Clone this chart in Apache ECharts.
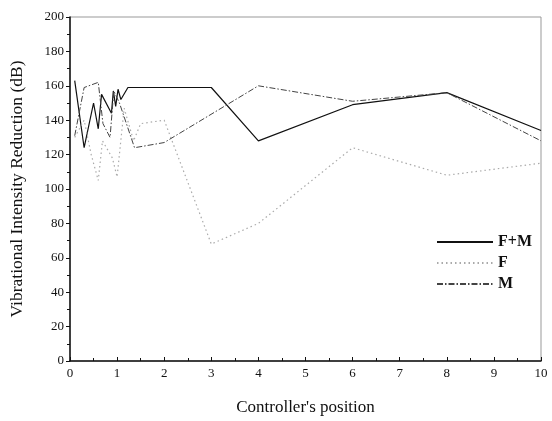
<!DOCTYPE html>
<html><head><meta charset="utf-8">
<script src="https://cdn.jsdelivr.net/npm/echarts@6/dist/echarts.min.js"></script>
<style>html,body{margin:0;padding:0;background:#fff}#c{width:552px;height:421px}</style>
</head><body><div id="c"></div>
<script>
var seriesNames = ['F+M', 'F', 'M'];
var xFM = [0.1, 0.3, 0.5, 0.6, 0.67, 0.88, 0.92, 0.97, 1.02, 1.08, 1.23, 3, 4, 6, 8, 10];
var yFM = [163, 124, 150, 135, 155, 144, 157, 148, 158, 152, 159, 159, 128, 149, 156, 134];
var xF = [0.1, 0.3, 0.45, 0.6, 0.69, 0.9, 1.0, 1.15, 1.35, 1.5, 2, 3, 4, 6, 8, 10];
var yF = [130, 140, 120, 105, 128, 118, 107, 147, 128, 138, 140, 68, 80, 124, 108, 115];
var xM = [0.1, 0.3, 0.6, 0.7, 0.85, 0.93, 1.05, 1.37, 2, 4, 6, 8, 10];
var yM = [131, 159, 162, 138, 130, 157, 150, 124, 127, 160, 151, 156, 128];
var xTicks = [0,1,2,3,4,5,6,7,8,9,10];
var yTicks = [0,20,40,60,80,100,120,140,160,180,200];

function pairs(xs, ys){ return xs.map(function(x,i){return [x, ys[i]];}); }
var font = 'Liberation Serif';
var chart = echarts.init(document.getElementById('c'));
chart.setOption({
  animation: false,
  backgroundColor: '#fff',
  grid: {left: 70, right: 11, top: 17, bottom: 59, show: true, borderColor: '#999', borderWidth: 1},
  legend: {
    show: true, orient: 'vertical', left: 431, top: 229, itemGap: 5, itemWidth: 56, itemHeight: 12,
    itemStyle: {opacity: 0},
    textStyle: {fontFamily: font, fontSize: 16, fontWeight: 'bold', color: '#111'},
    data: seriesNames
  },
  xAxis: {
    type: 'value', min: 0, max: 10, interval: 1,
    name: "Controller's position", nameLocation: 'middle', nameGap: 38,
    nameTextStyle: {fontFamily: font, fontSize: 17, color: '#111'},
    axisLine: {lineStyle: {color: '#111', width: 1.5}},
    axisTick: {inside: true, length: 4, lineStyle: {color: '#111'}},
    minorTick: {show: true, splitNumber: 2, length: 3, lineStyle: {color: '#111'}},
    axisLabel: {fontFamily: font, fontSize: 13, color: '#111', margin: 6,
      formatter: function(v){ return xTicks.indexOf(v) >= 0 ? String(v) : ''; }},
    splitLine: {show: false}
  },
  yAxis: {
    type: 'value', min: 0, max: 200, interval: 20,
    name: 'Vibrational Intensity Reduction (dB)', nameLocation: 'middle', nameGap: 44,
    nameTextStyle: {fontFamily: font, fontSize: 17.5, color: '#111'},
    axisLine: {show: true, lineStyle: {color: '#111', width: 1.5}},
    axisTick: {show: true, inside: false, length: 4, lineStyle: {color: '#111'}},
    minorTick: {show: true, splitNumber: 2, length: 3, lineStyle: {color: '#111'}},
    axisLabel: {fontFamily: font, fontSize: 13, color: '#111', margin: 6,
      formatter: function(v){ return yTicks.indexOf(v) >= 0 ? String(v) : ''; }},
    splitLine: {show: false}
  },
  series: [
    {name: seriesNames[0], type: 'line', data: pairs(xFM, yFM), showSymbol: false, symbol: 'none',
     lineStyle: {color: '#111', width: 1.2}, itemStyle: {color: '#111'}},
    {name: seriesNames[1], type: 'line', data: pairs(xF, yF), showSymbol: false, symbol: 'none',
     lineStyle: {color: '#aaa', width: 1.2, type: [1.5, 3]}, itemStyle: {color: '#aaa'}},
    {name: seriesNames[2], type: 'line', data: pairs(xM, yM), showSymbol: false, symbol: 'none',
     lineStyle: {color: '#444', width: 1, type: [6, 2, 1.5, 2]}, itemStyle: {color: '#444'}}
  ]
});
</script></body></html>
